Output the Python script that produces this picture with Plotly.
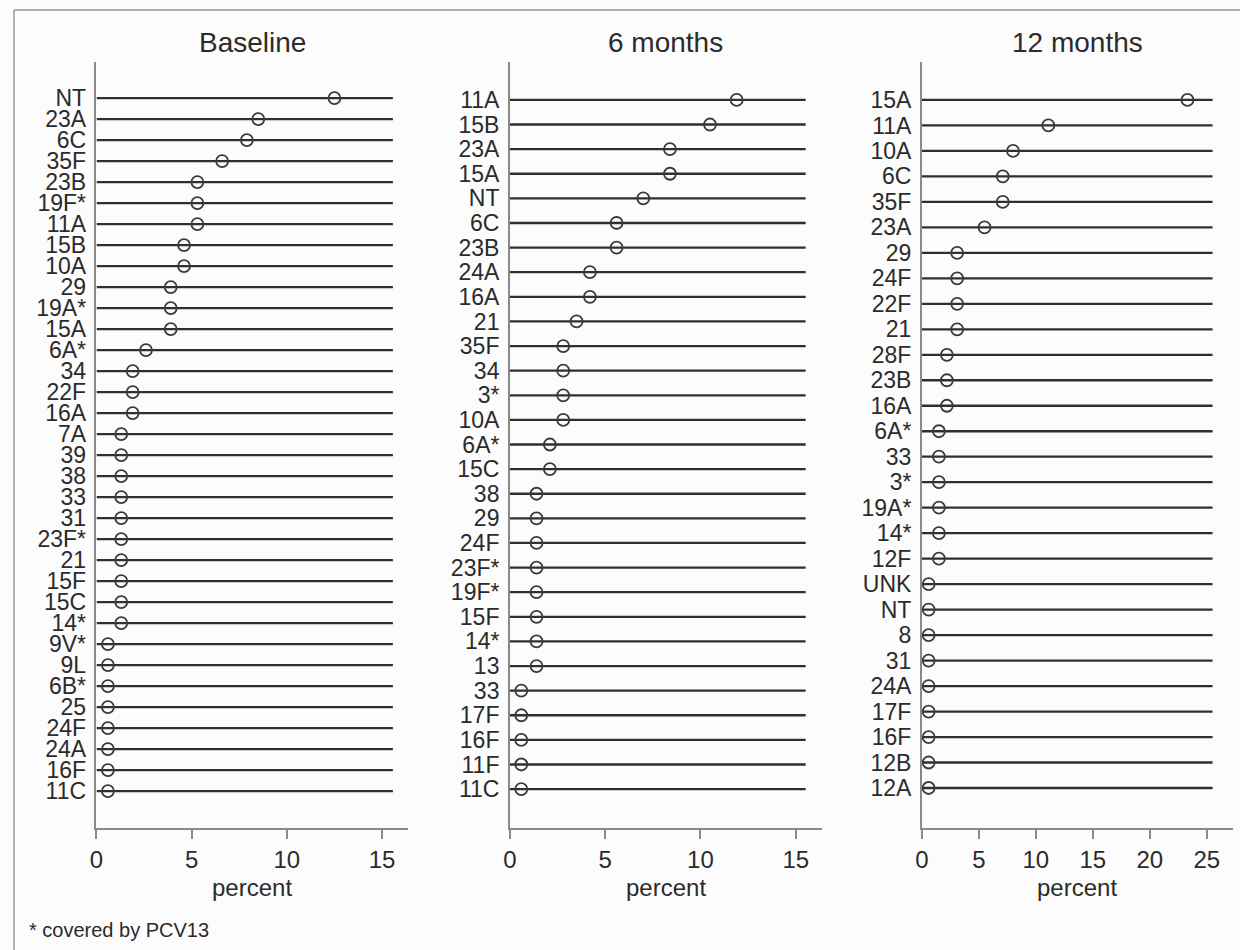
import plotly.graph_objects as go

W, H = 1240, 950

# ---------------- data ----------------
baseline_labels = ["NT", "23A", "6C", "35F", "23B", "19F*", "11A", "15B", "10A", "29",
                   "19A*", "15A", "6A*", "34", "22F", "16A", "7A", "39", "38", "33",
                   "31", "23F*", "21", "15F", "15C", "14*", "9V*", "9L", "6B*", "25",
                   "24F", "24A", "16F", "11C"]
baseline_values = [12.5, 8.5, 7.9, 6.6, 5.3, 5.3, 5.3, 4.6, 4.6, 3.9,
                   3.9, 3.9, 2.6, 1.9, 1.9, 1.9, 1.3, 1.3, 1.3, 1.3,
                   1.3, 1.3, 1.3, 1.3, 1.3, 1.3, 0.6, 0.6, 0.6, 0.6,
                   0.6, 0.6, 0.6, 0.6]

m6_labels = ["11A", "15B", "23A", "15A", "NT", "6C", "23B", "24A", "16A", "21",
             "35F", "34", "3*", "10A", "6A*", "15C", "38", "29", "24F", "23F*",
             "19F*", "15F", "14*", "13", "33", "17F", "16F", "11F", "11C"]
m6_values = [11.9, 10.5, 8.4, 8.4, 7.0, 5.6, 5.6, 4.2, 4.2, 3.5,
             2.8, 2.8, 2.8, 2.8, 2.1, 2.1, 1.4, 1.4, 1.4, 1.4,
             1.4, 1.4, 1.4, 1.4, 0.6, 0.6, 0.6, 0.6, 0.6]

m12_labels = ["15A", "11A", "10A", "6C", "35F", "23A", "29", "24F", "22F", "21",
              "28F", "23B", "16A", "6A*", "33", "3*", "19A*", "14*", "12F", "UNK",
              "NT", "8", "31", "24A", "17F", "16F", "12B", "12A"]
m12_values = [23.3, 11.1, 8.0, 7.1, 7.1, 5.5, 3.1, 3.1, 3.1, 3.1,
              2.2, 2.2, 2.2, 1.5, 1.5, 1.5, 1.5, 1.5, 1.5, 0.6,
              0.6, 0.6, 0.6, 0.6, 0.6, 0.6, 0.6, 0.6]

titles = ["Baseline", "6 months", "12 months"]
x_ticks = [[0, 5, 10, 15], [0, 5, 10, 15], [0, 5, 10, 15, 20, 25]]
footnote = "* covered by PCV13"

# ---------------- layout constants ----------------
FONT = "Liberation Sans, Arial, Helvetica, sans-serif"
TXT = "#2b2b2b"
panels = [
    dict(labels=baseline_labels, values=baseline_values, px=(90, 403),
         xmax=16.35, line_end=15.57, pad=(1.72, 1.76)),
    dict(labels=m6_labels, values=m6_values, px=(505.7, 819.3),
         xmax=16.36, line_end=15.52, pad=(1.54, 1.58)),
    dict(labels=m12_labels, values=m12_values, px=(920, 1232.7),
         xmax=27.27, line_end=25.5, pad=(1.49, 1.57)),
]
y_top_px, y_bot_px = 62, 828
ydom = [(H - y_bot_px) / H, (H - y_top_px) / H]

fig = go.Figure()
layout = dict(
    width=W, height=H, autosize=False,
    margin=dict(l=0, r=0, t=0, b=0),
    paper_bgcolor="#fcfcfc", plot_bgcolor="rgba(0,0,0,0)",
    showlegend=False,
    font=dict(family=FONT, color=TXT),
)
annotations = []

for i, p in enumerate(panels):
    ax = "" if i == 0 else str(i + 1)
    n = len(p["labels"])
    idx = list(range(n))
    # horizontal guide lines
    lx, ly = [], []
    for k in idx:
        lx += [0, p["line_end"], None]
        ly += [k, k, None]
    fig.add_trace(go.Scatter(x=lx, y=ly, mode="lines",
                             line=dict(color="#2f2f2f", width=2.3),
                             xaxis="x" + ax, yaxis="y" + ax, hoverinfo="skip"))
    fig.add_trace(go.Scatter(x=p["values"], y=idx, mode="markers",
                             marker=dict(symbol="circle-open", size=12, color="#3a3a3a",
                                         line=dict(color="#3a3a3a", width=1.8)),
                             xaxis="x" + ax, yaxis="y" + ax,
                             text=p["labels"], hovertemplate="%{text}: %{x}%<extra></extra>"))
    xd = [p["px"][0] / W, p["px"][1] / W]
    layout["xaxis" + ax] = dict(
        domain=xd, range=[0, p["xmax"]], anchor="y" + ax,
        showgrid=False, zeroline=False, showline=True,
        linecolor="#8a8a8a", linewidth=1.6,
        ticks="outside", ticklen=9, tickwidth=1.6, tickcolor="#8a8a8a",
        tickvals=x_ticks[i], ticktext=[str(t) for t in x_ticks[i]],
        ticklabelstandoff=0,
        tickfont=dict(size=24, color=TXT, family=FONT),
    )
    layout["yaxis" + ax] = dict(
        domain=ydom, range=[n - 1 + p["pad"][1], -p["pad"][0]], anchor="x" + ax,
        showgrid=False, zeroline=False, showline=True,
        linecolor="#8a8a8a", linewidth=1.6, ticks="",
        tickvals=idx, ticktext=p["labels"], ticklabelstandoff=4,
        tickfont=dict(size=23, color=TXT, family=FONT),
    )
    cx = (xd[0] + xd[1]) / 2
    annotations.append(dict(text=titles[i], x=cx, y=(H - 42) / H, xref="paper", yref="paper",
                            showarrow=False, xanchor="center", yanchor="middle",
                            font=dict(size=28, color=TXT, family=FONT)))
    annotations.append(dict(text="percent", x=cx, y=(H - 887) / H, xref="paper", yref="paper",
                            showarrow=False, xanchor="center", yanchor="middle",
                            font=dict(size=24, color=TXT, family=FONT)))

annotations.append(dict(text=footnote, x=20 / W, y=(H - 930) / H, xref="paper", yref="paper",
                        showarrow=False, xanchor="left", yanchor="middle",
                        font=dict(size=20, color=TXT, family=FONT)))
layout["annotations"] = annotations
layout["shapes"] = [
    dict(type="line", xref="paper", yref="paper", x0=7 / W, x1=1, y0=(H - 10) / H, y1=(H - 10) / H,
         line=dict(color="#999999", width=1.5)),
    dict(type="line", xref="paper", yref="paper", x0=7 / W, x1=7 / W, y0=0, y1=(H - 10) / H,
         line=dict(color="#999999", width=1.5)),
]
fig.update_layout(**layout)
fig.write_html("out.html", config={"displayModeBar": False},
               post_script="document.body.style.margin='0';document.body.style.overflow='hidden';")
